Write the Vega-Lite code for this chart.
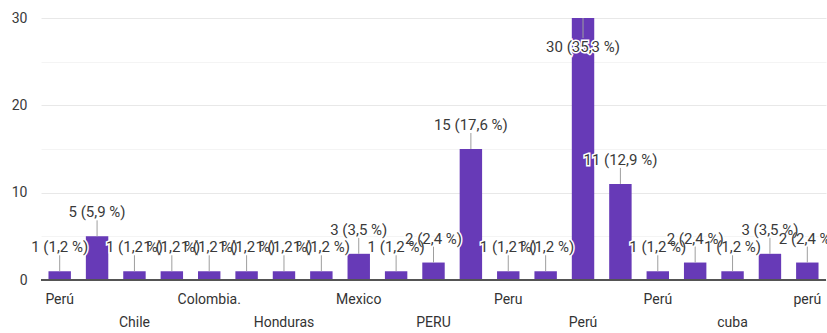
{
  "$schema": "https://vega.github.io/schema/vega-lite/v6.json",
  "width": 785,
  "height": 262,
  "autosize": {"type": "none"},
  "padding": {"left": 41, "top": 18, "right": 1, "bottom": 53},
  "background": "white",
  "config": {
    "view": {"stroke": null},
    "font": "Roboto",
    "text": {"font": "Roboto"}
  },
  "data": {
    "values": [
      {"i": 1, "pais": "Perú", "n": 1, "pct": 1.2},
      {"i": 2, "n": 5, "pct": 5.9},
      {"i": 3, "pais": "Chile", "n": 1, "pct": 1.2},
      {"i": 4, "n": 1, "pct": 1.2},
      {"i": 5, "pais": "Colombia.", "n": 1, "pct": 1.2},
      {"i": 6, "n": 1, "pct": 1.2},
      {"i": 7, "pais": "Honduras", "n": 1, "pct": 1.2},
      {"i": 8, "n": 1, "pct": 1.2},
      {"i": 9, "pais": "Mexico", "n": 3, "pct": 3.5},
      {"i": 10, "n": 1, "pct": 1.2},
      {"i": 11, "pais": "PERU", "n": 2, "pct": 2.4},
      {"i": 12, "n": 15, "pct": 17.6},
      {"i": 13, "pais": "Peru", "n": 1, "pct": 1.2},
      {"i": 14, "n": 1, "pct": 1.2},
      {"i": 15, "pais": "Perú", "n": 30, "pct": 35.3},
      {"i": 16, "n": 11, "pct": 12.9},
      {"i": 17, "pais": "Perú", "n": 1, "pct": 1.2},
      {"i": 18, "n": 2, "pct": 2.4},
      {"i": 19, "pais": "cuba", "n": 1, "pct": 1.2},
      {"i": 20, "n": 3, "pct": 3.5},
      {"i": 21, "pais": "perú", "n": 2, "pct": 2.4}
    ]
  },
  "transform": [
    {"calculate": "datum.n + ' (' + replace(format(datum.pct, '.1f'), '.', ',') + ' %)'", "as": "etiqueta"}
  ],
  "encoding": {
    "x": {
      "field": "i",
      "type": "ordinal",
      "axis": null,
      "scale": {"paddingInner": 0.4, "paddingOuter": 0.2}
    }
  },
  "layer": [
    {
      "mark": {"type": "bar", "color": "#673ab7"},
      "encoding": {
        "y": {
          "field": "n",
          "type": "quantitative",
          "scale": {"domain": [0, 30], "nice": false},
          "axis": {
            "title": null,
            "values": [0, 5, 10, 15, 20, 25, 30],
            "labelExpr": "datum.value % 10 == 0 ? datum.label : ''",
            "ticks": false,
            "domain": false,
            "labelPadding": 14,
            "labelFont": "Roboto",
            "labelFontSize": 14,
            "labelColor": "#3a3a3a",
            "gridColor": {"condition": {"test": "datum.value % 10 == 0", "value": "#e8e8e8"}, "value": "#f4f4f4"},
            "gridWidth": 1
          }
        }
      }
    },
    {
      "mark": {"type": "rule", "color": "#555555", "strokeWidth": 1.5},
      "encoding": {"x": {"value": 0}, "x2": {"value": 785}, "y": {"datum": 0, "type": "quantitative"}}
    },
    {
      "transform": [{"filter": "datum.n < 25"}],
      "mark": {"type": "rule", "color": "#9e9e9e", "strokeWidth": 1, "y2Offset": -16},
      "encoding": {"y": {"field": "n", "type": "quantitative"}, "y2": {"field": "n"}}
    },
    {
      "transform": [{"filter": "datum.n >= 25"}],
      "mark": {"type": "rule", "color": "#9e9e9e", "strokeWidth": 1, "y2Offset": 20},
      "encoding": {"y": {"field": "n", "type": "quantitative"}, "y2": {"field": "n"}}
    },
    {
      "transform": [{"filter": "datum.n < 25"}],
      "mark": {"type": "text", "fontSize": 15, "baseline": "middle", "dy": -24, "fill": "white", "stroke": "white", "strokeWidth": 3},
      "encoding": {"y": {"field": "n", "type": "quantitative"}, "text": {"field": "etiqueta"}}
    },
    {
      "transform": [{"filter": "datum.n < 25"}],
      "mark": {"type": "text", "fontSize": 15, "baseline": "middle", "dy": -24, "color": "#3a3a3a"},
      "encoding": {"y": {"field": "n", "type": "quantitative"}, "text": {"field": "etiqueta"}}
    },
    {
      "transform": [{"filter": "datum.n >= 25"}],
      "mark": {"type": "text", "fontSize": 15, "baseline": "middle", "dy": 29, "fill": "white", "stroke": "white", "strokeWidth": 3},
      "encoding": {"y": {"field": "n", "type": "quantitative"}, "text": {"field": "etiqueta"}}
    },
    {
      "transform": [{"filter": "datum.n >= 25"}],
      "mark": {"type": "text", "fontSize": 15, "baseline": "middle", "dy": 29, "color": "#3a3a3a"},
      "encoding": {"y": {"field": "n", "type": "quantitative"}, "text": {"field": "etiqueta"}}
    },
    {
      "transform": [{"filter": "datum.i % 4 == 1"}],
      "mark": {"type": "text", "fontSize": 14, "baseline": "middle", "dy": 20, "color": "#333333"},
      "encoding": {"y": {"datum": 0, "type": "quantitative"}, "text": {"field": "pais"}}
    },
    {
      "transform": [{"filter": "datum.i % 4 == 3"}],
      "mark": {"type": "text", "fontSize": 14, "baseline": "middle", "dy": 43, "color": "#333333"},
      "encoding": {"y": {"datum": 0, "type": "quantitative"}, "text": {"field": "pais"}}
    }
  ]
}
